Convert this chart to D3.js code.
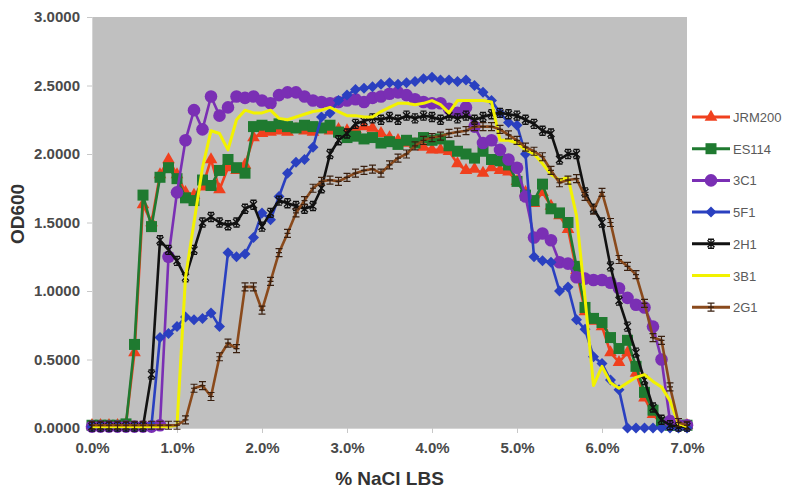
<html>
<head>
<script src="https://d3js.org/d3.v7.min.js"></script>
<style>
  body { margin: 0; background: #fff; }
  .tick text { font-family: "Liberation Sans", Arial, sans-serif; font-weight: bold; font-size: 15px; fill: #4a4a4a; }
  .legend text { font-family: "Liberation Sans", Arial, sans-serif; font-size: 13px; fill: #5a5a5a; }
</style>
</head>
<body>
<svg id="chart" width="800" height="497"></svg>
<script>
// NaCl concentration (%), one reading every 0.1 %
const nacl = [0.0,0.1,0.2,0.3,0.4,0.5,0.6,0.7,0.8,0.9,
              1.0,1.1,1.2,1.3,1.4,1.5,1.6,1.7,1.8,1.9,
              2.0,2.1,2.2,2.3,2.4,2.5,2.6,2.7,2.8,2.9,
              3.0,3.1,3.2,3.3,3.4,3.5,3.6,3.7,3.8,3.9,
              4.0,4.1,4.2,4.3,4.4,4.5,4.6,4.7,4.8,4.9,
              5.0,5.1,5.2,5.3,5.4,5.5,5.6,5.7,5.8,5.9,
              6.0,6.1,6.2,6.3,6.4,6.5,6.6,6.7,6.8,6.9,7.0];

const strains = ["JRM200", "ES114", "3C1", "5F1", "2H1", "3B1", "2G1"];

const jrm200 = [0.02,0.02,0.02,0.02,0.03,0.55,1.63,1.50,1.85,1.96,
                1.85,1.72,1.70,1.76,1.96,1.74,1.90,1.88,1.92,2.12,
                2.15,2.16,2.17,2.16,2.18,2.17,2.16,2.18,2.17,2.18,
                2.17,2.18,2.20,2.19,2.15,2.12,2.10,2.08,2.07,2.05,
                2.03,2.03,2.02,1.93,1.88,1.89,1.86,1.90,1.88,1.87,
                1.80,1.72,1.64,1.72,1.62,1.55,1.45,1.15,0.85,0.78,
                0.74,0.55,0.48,0.55,0.40,0.22,0.10,0.03,0.02,0.02,0.02];

const es114 = [0.02,0.02,0.02,0.02,0.03,0.61,1.70,1.47,1.83,1.90,
               1.82,1.68,1.66,1.81,1.77,1.88,1.96,1.90,1.86,2.20,
               2.21,2.20,2.22,2.20,2.19,2.21,2.20,2.19,2.21,2.16,
               2.12,2.13,2.11,2.12,2.08,2.09,2.07,2.10,2.08,2.12,
               2.10,2.11,2.06,2.02,2.00,1.97,2.02,1.96,1.95,1.92,
               1.80,1.70,1.66,1.78,1.60,1.57,1.50,1.18,0.88,0.80,
               0.77,0.66,0.58,0.64,0.45,0.26,0.13,0.04,0.02,0.02,0.02];

const c3c1 = [0.01,0.01,0.01,0.01,0.01,0.01,0.01,0.01,0.02,1.25,
              1.72,2.10,2.32,2.18,2.42,2.28,2.34,2.42,2.41,2.42,
              2.39,2.37,2.43,2.45,2.45,2.42,2.39,2.38,2.37,2.38,
              2.39,2.40,2.38,2.41,2.42,2.44,2.45,2.43,2.40,2.38,
              2.37,2.37,2.33,2.30,2.34,2.20,2.08,2.10,2.03,1.96,
              1.90,1.69,1.39,1.42,1.37,1.21,1.20,1.10,1.09,1.08,
              1.08,1.06,1.02,0.95,0.90,0.88,0.74,0.50,0.05,0.02,0.02];

const f5f1 = [0.01,0.01,0.01,0.01,0.01,0.01,0.01,0.02,0.66,0.69,
              0.74,0.81,0.79,0.80,0.84,0.74,1.28,1.25,1.27,1.39,
              1.57,1.52,1.69,1.86,1.94,1.96,2.05,2.27,2.30,2.39,
              2.43,2.47,2.48,2.49,2.51,2.52,2.51,2.52,2.53,2.55,
              2.56,2.54,2.54,2.53,2.54,2.50,2.45,2.39,2.30,2.23,
              2.21,2.00,1.25,1.22,1.21,1.00,1.03,0.79,0.72,0.52,
              0.47,0.35,0.28,0.00,0.00,0.00,0.00,0.00,0.00,0.00,0.00];

const h2h1 = [0.01,0.01,0.01,0.01,0.01,0.01,0.01,0.39,1.37,1.30,
              1.22,1.10,1.30,1.50,1.54,1.50,1.48,1.50,1.60,1.63,
              1.47,1.57,1.66,1.64,1.62,1.60,1.62,1.75,2.00,2.10,
              2.15,2.22,2.24,2.26,2.25,2.27,2.25,2.28,2.26,2.28,
              2.27,2.25,2.28,2.26,2.28,2.25,2.27,2.29,2.30,2.29,
              2.28,2.25,2.22,2.17,2.15,1.96,2.00,2.00,1.72,1.60,
              1.50,1.18,0.93,0.74,0.55,0.35,0.15,0.06,0.02,0.01,0.01];

const b3b1 = [0.01,0.01,0.01,0.01,0.01,0.01,0.01,0.01,0.01,0.01,
              0.02,1.10,1.50,1.90,2.17,2.15,2.03,2.25,2.32,2.30,
              2.30,2.32,2.26,2.25,2.27,2.29,2.31,2.32,2.34,2.31,
              2.28,2.28,2.27,2.27,2.31,2.34,2.37,2.37,2.36,2.37,
              2.39,2.36,2.30,2.39,2.39,2.39,2.39,2.38,2.10,2.10,
              2.08,2.03,2.00,1.93,1.85,1.81,1.83,1.55,0.95,0.31,
              0.45,0.33,0.29,0.33,0.37,0.39,0.34,0.30,0.20,0.03,0.01];

const g2g1 = [0.02,0.02,0.02,0.02,0.02,0.02,0.02,0.02,0.02,0.02,
              0.02,0.06,0.29,0.31,0.23,0.52,0.62,0.58,1.03,1.03,
              0.86,1.07,1.28,1.42,1.57,1.66,1.75,1.80,1.81,1.80,
              1.83,1.86,1.88,1.89,1.86,1.92,1.97,2.00,2.06,2.10,
              2.12,2.13,2.15,2.16,2.17,2.20,2.20,2.20,2.18,2.14,
              2.10,2.05,2.02,1.98,1.88,1.79,1.81,1.82,1.69,1.59,
              1.72,1.50,1.23,1.18,1.12,0.91,0.66,0.64,0.30,0.04,0.02];

const yTicks = [0, 0.5, 1.0, 1.5, 2.0, 2.5, 3.0];
const xTicks = [0, 1, 2, 3, 4, 5, 6, 7];

const values = [jrm200, es114, c3c1, f5f1, h2h1, b3b1, g2g1];
const colors = ["#f0401e", "#1f7a30", "#7a2fb4", "#2a40c0", "#111111", "#f2f200", "#8a4a1c"];
const markers = ["triangle", "square", "circle", "diamond", "star", "none", "bar"];

const svg = d3.select("#chart");
const plot = { left: 92, right: 687, top: 17, bottom: 428 };

const x = d3.scaleLinear().domain([0, 7]).range([plot.left, plot.right]);
const y = d3.scaleLinear().domain([0, 3]).range([plot.bottom, plot.top]);

svg.append("rect")
  .attr("x", plot.left).attr("y", plot.top)
  .attr("width", plot.right - plot.left).attr("height", plot.bottom - plot.top)
  .attr("fill", "#c0c0c0");

const yAxis = svg.append("g")
  .attr("transform", `translate(${plot.left},0)`)
  .call(d3.axisLeft(y).tickValues(yTicks).tickFormat(d3.format(".4f")).tickSize(5).tickPadding(7));
const xAxis = svg.append("g")
  .attr("transform", `translate(0,${plot.bottom})`)
  .call(d3.axisBottom(x).tickValues(xTicks).tickFormat(d => d.toFixed(1) + "%").tickSize(5).tickPadding(9));
[yAxis, xAxis].forEach(a => {
  a.select(".domain").attr("stroke", "#d4d4d4");
  a.selectAll(".tick line").attr("stroke", "#c8c8c8");
});

svg.append("text")
  .attr("x", (plot.left + plot.right) / 2).attr("y", 485)
  .attr("text-anchor", "middle")
  .style("font-family", "Liberation Sans, Arial, sans-serif")
  .style("font-weight", "bold").style("font-size", "19px").style("fill", "#333")
  .text("% NaCl LBS");

svg.append("text")
  .attr("transform", "translate(24,214) rotate(-90)")
  .attr("text-anchor", "middle")
  .style("font-family", "Liberation Sans, Arial, sans-serif")
  .style("font-weight", "bold").style("font-size", "19px").style("fill", "#333")
  .text("OD600");

// marker shapes
function drawMarker(g, type, color) {
  if (type === "triangle") {
    g.append("path").attr("d", d3.symbol(d3.symbolTriangle, 70)()).attr("fill", color);
  } else if (type === "square") {
    g.append("rect").attr("x", -5.5).attr("y", -5.5).attr("width", 11).attr("height", 11).attr("fill", color);
  } else if (type === "circle") {
    g.append("circle").attr("r", 6.3).attr("fill", color);
  } else if (type === "diamond") {
    g.append("path").attr("d", "M0,-5.5L5.5,0L0,5.5L-5.5,0Z").attr("fill", color);
  } else if (type === "star") {
    g.append("path").attr("d", "M-3.5,-3.5L3.5,3.5M-3.5,3.5L3.5,-3.5M0,-4.5L0,4.5M-3,-4.5L3,-4.5M-3,4.5L3,4.5")
      .attr("stroke", color).attr("stroke-width", 1.4).attr("fill", "none");
  } else if (type === "bar") {
    g.append("path").attr("d", "M0,-4L0,4M-3.5,-4L3.5,-4M-3.5,4L3.5,4M-3,0L3,0")
      .attr("stroke", "#3a2010").attr("stroke-width", 1.2).attr("fill", "none");
  }
}

const line = d3.line().x((d, i) => x(nacl[i])).y(d => y(d));

strains.forEach((name, s) => {
  const g = svg.append("g").attr("class", "series");
  g.append("path")
    .datum(values[s])
    .attr("d", line)
    .attr("fill", "none")
    .attr("stroke", colors[s])
    .attr("stroke-width", s === 5 ? 3 : 2.6)
    .attr("stroke-linejoin", "round");
  if (markers[s] !== "none") {
    g.selectAll("g.pt").data(values[s]).join("g")
      .attr("class", "pt")
      .attr("transform", (d, i) => `translate(${x(nacl[i])},${y(d)})`)
      .each(function () { drawMarker(d3.select(this), markers[s], colors[s]); });
  }
});

// legend
const legend = svg.append("g").attr("class", "legend");
const item = legend.selectAll("g").data(strains).join("g")
  .attr("transform", (d, i) => `translate(692,${117 + i * 31.7})`);
item.append("line")
  .attr("x1", 0).attr("x2", 38).attr("y1", 0).attr("y2", 0)
  .attr("stroke", (d, i) => colors[i]).attr("stroke-width", 3);
item.append("g")
  .attr("transform", "translate(19,0)")
  .each(function (d, i) { drawMarker(d3.select(this), markers[i], colors[i]); });
item.append("text")
  .attr("x", 41).attr("y", 5)
  .text(d => d);
</script>
</body>
</html>
